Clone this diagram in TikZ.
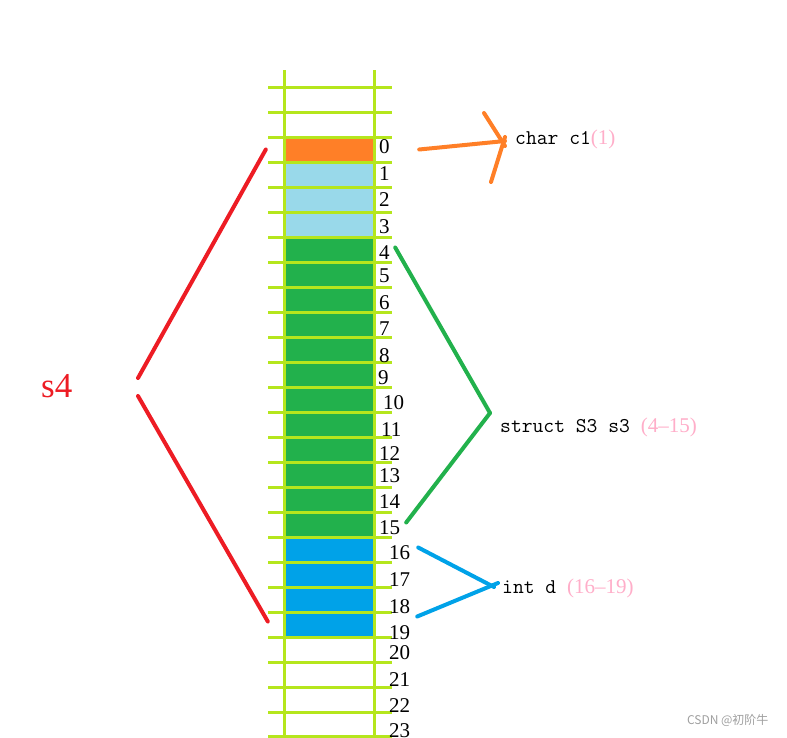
\documentclass[tikz,border=0pt]{standalone}
\usepackage{fontspec}
\usepackage{xcolor}
\newfontfamily\cjkfont{Noto Sans CJK SC}
\newfontfamily\numfont{Liberation Serif}
\definecolor{gridline}{RGB}{181,230,29}
\definecolor{cellorange}{RGB}{255,127,39}
\definecolor{lightblue}{RGB}{153,217,234}
\definecolor{cellgreen}{RGB}{34,177,76}
\definecolor{deepblue}{RGB}{0,162,232}
\definecolor{brace}{RGB}{237,28,36}
\definecolor{pinkish}{RGB}{255,174,201}
\newcommand{\codetxt}[1]{{\fontsize{21}{21}\ttfamily #1}}
\newcommand{\spanof}[1]{\textcolor{pinkish}{\numfont\fontsize{21}{21}\selectfont #1}}
\tikzstyle{cell}=[minimum width=90pt,minimum height=25pt,inner sep=0pt]
\tikzstyle{grid}=[line width=3pt,color=gridline]
\tikzstyle{num}=[anchor=west,inner sep=0pt,font=\numfont\fontsize{21}{21}\selectfont]
\tikzstyle{penline}=[line width=4pt,line cap=round]
\tikzstyle{member}=[anchor=base west,inner sep=0pt]

\begin{document}
\begin{tikzpicture}[x=1pt,y=-1pt]
  \useasboundingbox (0,0) rectangle (787,737);
  %% Memory cells
  \draw (329,149.5) node[cell,fill=cellorange] (C0) {};
  \draw (329,174.5) node[cell,fill=lightblue] (C1) {};
  \draw (329,199.5) node[cell,fill=lightblue] (C2) {};
  \draw (329,224.5) node[cell,fill=lightblue] (C3) {};
  \draw (329,249.5) node[cell,fill=cellgreen] (C4) {};
  \draw (329,274.5) node[cell,fill=cellgreen] (C5) {};
  \draw (329,299.5) node[cell,fill=cellgreen] (C6) {};
  \draw (329,324.5) node[cell,fill=cellgreen] (C7) {};
  \draw (329,349.5) node[cell,fill=cellgreen] (C8) {};
  \draw (329,374.5) node[cell,fill=cellgreen] (C9) {};
  \draw (329,399.5) node[cell,fill=cellgreen] (C10) {};
  \draw (329,424.5) node[cell,fill=cellgreen] (C11) {};
  \draw (329,449.5) node[cell,fill=cellgreen] (C12) {};
  \draw (329,474.5) node[cell,fill=cellgreen] (C13) {};
  \draw (329,499.5) node[cell,fill=cellgreen] (C14) {};
  \draw (329,524.5) node[cell,fill=cellgreen] (C15) {};
  \draw (329,549.5) node[cell,fill=deepblue] (C16) {};
  \draw (329,574.5) node[cell,fill=deepblue] (C17) {};
  \draw (329,599.5) node[cell,fill=deepblue] (C18) {};
  \draw (329,624.5) node[cell,fill=deepblue] (C19) {};

  %% Grid lines
  \draw[grid] (284,70) -- (284,737);
  \draw[grid] (374,70) -- (374,737);
  \draw[grid] (268,87) -- (392,87);
  \draw[grid] (268,112) -- (392,112);
  \draw[grid] (268,137) -- (392,137);
  \draw[grid] (268,162) -- (392,162);
  \draw[grid] (268,187) -- (392,187);
  \draw[grid] (268,212) -- (392,212);
  \draw[grid] (268,237) -- (392,237);
  \draw[grid] (268,262) -- (392,262);
  \draw[grid] (268,287) -- (392,287);
  \draw[grid] (268,312) -- (392,312);
  \draw[grid] (268,337) -- (392,337);
  \draw[grid] (268,362) -- (392,362);
  \draw[grid] (268,387) -- (392,387);
  \draw[grid] (268,412) -- (392,412);
  \draw[grid] (268,437) -- (392,437);
  \draw[grid] (268,462) -- (392,462);
  \draw[grid] (268,487) -- (392,487);
  \draw[grid] (268,512) -- (392,512);
  \draw[grid] (268,537) -- (392,537);
  \draw[grid] (268,562) -- (392,562);
  \draw[grid] (268,587) -- (392,587);
  \draw[grid] (268,612) -- (392,612);
  \draw[grid] (268,637) -- (392,637);
  \draw[grid] (268,662) -- (392,662);
  \draw[grid] (268,687) -- (392,687);
  \draw[grid] (268,712) -- (392,712);
  \draw[grid] (268,736) -- (392,736);

  %% Offsets
  \draw (379,147) node[num] (N0) {0};
  \draw (379,174) node[num] (N1) {1};
  \draw (379,200) node[num] (N2) {2};
  \draw (379,227) node[num] (N3) {3};
  \draw (379,253) node[num] (N4) {4};
  \draw (379,276) node[num] (N5) {5};
  \draw (379,303) node[num] (N6) {6};
  \draw (379,329) node[num] (N7) {7};
  \draw (379,356) node[num] (N8) {8};
  \draw (378,378) node[num] (N9) {9};
  \draw (383,403) node[num] (N10) {10};
  \draw (381,430) node[num] (N11) {11};
  \draw (379,454) node[num] (N12) {12};
  \draw (379,476) node[num] (N13) {13};
  \draw (379,502) node[num] (N14) {14};
  \draw (379,528) node[num] (N15) {15};
  \draw (389,553) node[num] (N16) {16};
  \draw (389,580) node[num] (N17) {17};
  \draw (389,607) node[num] (N18) {18};
  \draw (389,633) node[num] (N19) {19};
  \draw (389,653) node[num] (N20) {20};
  \draw (389,680) node[num] (N21) {21};
  \draw (389,706) node[num] (N22) {22};
  \draw (389,731) node[num] (N23) {23};

  %% Members
  \draw (515,144) node[member] (c1) {\codetxt{char c1}\spanof{(1)}};
  \draw (500,432) node[member] (s3) {\codetxt{struct S3 s3 }\spanof{(4\textendash15)}};
  \draw (502,593) node[member] (d) {\codetxt{int d }\spanof{(16\textendash19)}};
  \draw (41,397) node[member,text=brace,font=\numfont\fontsize{35}{35}\selectfont] (s4) {s4};

  %% Brackets
  \coordinate (s4up) at (138,378);
  \coordinate (s4down) at (138,396);
  \coordinate (c1tip) at (505,141);
  \coordinate (c1wingA) at (484,113);
  \coordinate (c1wingB) at (491,182);
  \coordinate (s3tip) at (490,413);
  \coordinate (dtip) at (494,584);
  \draw[penline,color=brace] ([xshift=-18]C0.west) -- (s4up);
  \draw[penline,color=brace] (s4down) -- ([xshift=-16,yshift=3]C19.west);
  \draw[penline,color=cellorange] ([xshift=45,yshift=0]C0.east) -- (c1tip);
  \draw[penline,color=cellorange] (c1wingA) -- ([yshift=-5]c1tip);
  \draw[penline,color=cellorange] ([yshift=4]c1tip) -- (c1wingB);
  \draw[penline,color=cellgreen] ([xshift=21,yshift=2]C4.east) -- (s3tip);
  \draw[penline,color=cellgreen] (s3tip) -- ([xshift=32,yshift=2]C15.east);
  \draw[penline,color=deepblue] ([xshift=44,yshift=2]C16.east) -- ([yshift=-3]dtip);
  \draw[penline,color=deepblue] ([xshift=4,yshift=1]dtip) -- ([xshift=43,yshift=8]C19.east);

  %% Watermark
  \draw (772,720) node[anchor=east,text=gray!75,font=\cjkfont\fontsize{12}{12}\selectfont] (watermark) {CSDN @初阶牛};
\end{tikzpicture}
\end{document}
